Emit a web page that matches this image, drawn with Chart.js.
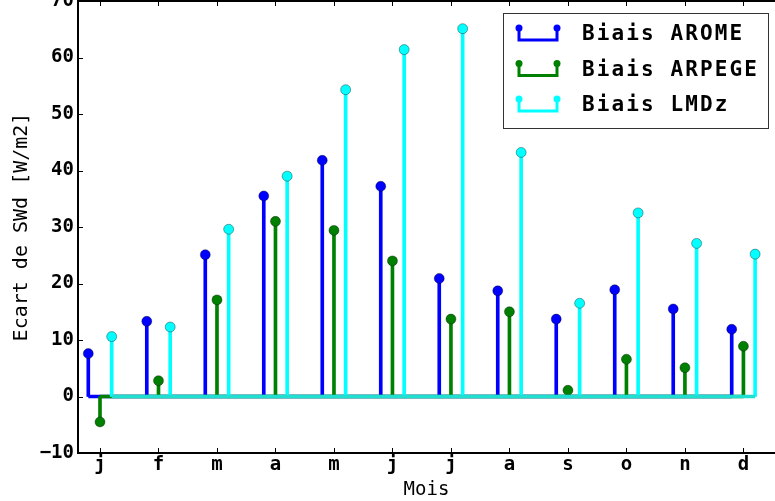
<!DOCTYPE html>
<html>
<head>
<meta charset="utf-8">
<title>Biais SWd</title>
<script src="https://cdn.jsdelivr.net/npm/chart.js@4.4.1/dist/chart.umd.min.js"></script>
<style>
    html, body { margin: 0; padding: 0; background: #fff; overflow: hidden; }
    canvas { display: block; }
</style>
</head>
<body>
<canvas id="biasChart" width="775" height="501"></canvas>
<script>
// data (W/m2)
var months = ['j', 'f', 'm', 'a', 'm', 'j', 'j', 'a', 's', 'o', 'n', 'd'];
var seriesNames = ['Biais AROME', 'Biais ARPEGE', 'Biais LMDz'];
var aromeBias = [7.6, 13.3, 25.1, 35.5, 41.8, 37.2, 20.9, 18.7, 13.7, 18.9, 15.5, 11.9];
var arpegeBias = [-4.5, 2.8, 17.1, 31.0, 29.4, 24.0, 13.7, 15.0, 1.1, 6.6, 5.1, 8.9];
var lmdzBias = [10.6, 12.3, 29.6, 39.0, 54.3, 61.4, 65.1, 43.2, 16.5, 32.5, 27.1, 25.2];
var yTicks = [-10, 0, 10, 20, 30, 40, 50, 60, 70];

var FONT = '"DejaVu Sans Mono", "Liberation Mono", monospace';

// style of each series: colour, baseline colour, shift from month position
var styles = [
    { color: '#0000ff', base: '#0000ff', shift: -0.2 },
    { color: '#008000', base: '#008000', shift: 0 },
    { color: '#00ffff', base: '#20dfd0', shift: 0.2 }
];
var allValues = [aromeBias, arpegeBias, lmdzBias];

var datasets = [];
allValues.forEach(function (values, s) {
    var st = styles[s];
    var top = 9 - s * 3; // higher order is drawn first
    // stems
    datasets.push({
        type: 'bar',
        label: seriesNames[s],
        data: values.map(function (v, i) { return { x: i + st.shift, y: [0, v] }; }),
        backgroundColor: st.color,
        barThickness: 3,
        grouped: false,
        order: top
    });
    // markers
    datasets.push({
        type: 'scatter',
        label: seriesNames[s] + ' markers',
        data: values.map(function (v, i) { return { x: i + st.shift, y: v }; }),
        pointRadius: 5,
        pointBackgroundColor: st.color,
        pointBorderColor: 'rgba(0, 0, 0, 0.35)',
        pointBorderWidth: 1,
        showLine: false,
        order: top - 1
    });
    // baseline
    datasets.push({
        type: 'line',
        label: seriesNames[s] + ' base',
        data: [{ x: st.shift, y: 0 }, { x: values.length - 1 + st.shift, y: 0 }],
        borderColor: st.base,
        borderWidth: 3.5,
        pointRadius: 0,
        fill: false,
        order: top - 2
    });
});

// frame and inward ticks (matplotlib look)
var framePlugin = {
    id: 'frame',
    afterDatasetsDraw: function (chart) {
        var ctx = chart.ctx;
        var a = chart.chartArea;
        var x = chart.scales.x;
        var y = chart.scales.y;
        ctx.save();
        ctx.strokeStyle = '#000';
        ctx.lineWidth = 1;
        ctx.beginPath();
        x.ticks.forEach(function (t) {
            var px = Math.round(x.getPixelForValue(t.value)) + 0.5;
            ctx.moveTo(px, a.bottom);
            ctx.lineTo(px, a.bottom - 5);
            ctx.moveTo(px, a.top);
            ctx.lineTo(px, a.top + 5);
        });
        y.ticks.forEach(function (t) {
            var py = Math.round(y.getPixelForValue(t.value)) + 0.5;
            ctx.moveTo(a.left, py);
            ctx.lineTo(a.left + 5, py);
        });
        ctx.stroke();
        ctx.lineWidth = 2;
        ctx.beginPath();
        ctx.moveTo(a.right, a.top);
        ctx.lineTo(a.left, a.top);
        ctx.lineTo(a.left, a.bottom);
        ctx.lineTo(a.right, a.bottom);
        ctx.stroke();
        ctx.restore();
    }
};

// legend box in the upper right corner, stem-shaped symbols
var stemLegend = {
    id: 'stemLegend',
    afterDraw: function (chart) {
        var ctx = chart.ctx;
        var a = chart.chartArea;
        var boxR = a.right - 7, boxL = boxR - 265, boxT = a.top + 12, boxB = boxT + 115;
        ctx.save();
        ctx.fillStyle = '#fff';
        ctx.fillRect(boxL, boxT, boxR - boxL, boxB - boxT);
        ctx.strokeStyle = '#333';
        ctx.lineWidth = 1;
        ctx.strokeRect(boxL + 0.5, boxT + 0.5, boxR - boxL, boxB - boxT);

        ctx.font = 'bold 21px ' + FONT;
        ctx.letterSpacing = '2.1px';
        ctx.textBaseline = 'alphabetic';
        ctx.textAlign = 'left';
        seriesNames.forEach(function (name, i) {
            var cy = boxT + 20 + i * 35.5;
            var x1 = boxL + 16, x2 = boxL + 54;
            var c = styles[i].color;
            ctx.strokeStyle = c;
            ctx.lineWidth = 3;
            ctx.beginPath();
            ctx.moveTo(x1, cy - 5);
            ctx.lineTo(x1, cy + 7);
            ctx.lineTo(x2, cy + 7);
            ctx.lineTo(x2, cy - 5);
            ctx.stroke();
            ctx.fillStyle = c;
            [x1, x2].forEach(function (px) {
                ctx.beginPath();
                ctx.arc(px, cy - 5, 3.5, 0, Math.PI * 2);
                ctx.fill();
            });
            ctx.fillStyle = '#000';
            ctx.fillText(name, boxL + 79, cy + 7);
        });
        ctx.restore();
    }
};

var canvas = document.getElementById('biasChart');

new Chart(canvas.getContext('2d'), {
    type: 'scatter',
    data: { datasets: datasets },
    plugins: [framePlugin, stemLegend],
    options: {
        responsive: false,
        animation: false,
        events: [],
        layout: {
            autoPadding: false,
            padding: { top: 1, right: 0, bottom: 0, left: 0 }
        },
        plugins: {
            legend: { display: false },
            tooltip: { enabled: false }
        },
        scales: {
            x: {
                type: 'linear',
                position: 'bottom',
                min: -0.376,
                max: 11.54,
                offset: false,
                grid: { display: false, drawTicks: false },
                border: { display: false },
                afterBuildTicks: function (axis) {
                    axis.ticks = months.map(function (m, i) { return { value: i }; });
                },
                afterFit: function (axis) {
                    axis.height = 48;
                    axis.paddingLeft = 0;
                    axis.paddingRight = 0;
                },
                ticks: {
                    autoSkip: false,
                    maxRotation: 0,
                    padding: 1,
                    color: '#000',
                    font: { family: FONT, size: 19, weight: 'bold' },
                    callback: function (value) { return months[value]; }
                },
                title: {
                    display: true,
                    text: 'Mois',
                    color: '#000',
                    font: { family: FONT, size: 19, lineHeight: 1 },
                    padding: { top: 0, bottom: 1 }
                }
            },
            y: {
                min: yTicks[0],
                max: yTicks[yTicks.length - 1],
                grid: { display: false, drawTicks: false },
                border: { display: false },
                afterBuildTicks: function (axis) {
                    axis.ticks = yTicks.map(function (v) { return { value: v }; });
                },
                afterFit: function (axis) {
                    axis.width = 78;
                    axis.paddingTop = 0;
                    axis.paddingBottom = 0;
                },
                ticks: {
                    padding: 4,
                    color: '#000',
                    font: { family: FONT, size: 19, weight: 'bold' },
                    callback: function (value) { return String(value).replace('-', '\u2212'); }
                },
                title: {
                    display: true,
                    text: 'Ecart de SWd [W/m2]',
                    color: '#000',
                    font: { family: FONT, size: 20 },
                    padding: { top: 10, bottom: 0 }
                }
            }
        }
    }
});
</script>
</body>
</html>
